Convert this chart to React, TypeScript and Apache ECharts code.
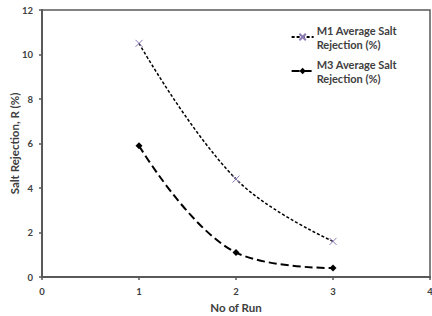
import React, { useEffect, useRef } from "react";
import * as echarts from "echarts";

const runs = [1, 2, 3];
const m1Values = [10.5, 4.4, 1.6];
const m3Values = [5.9, 1.1, 0.4];
const seriesNames = ["M1 Average Salt Rejection (%)", "M3 Average Salt Rejection (%)"];
const xTicks = [0, 1, 2, 3, 4];
const yTicks = [0, 2, 4, 6, 8, 10, 12];

export default function App() {
  const ref = useRef<HTMLDivElement>(null);
  useEffect(() => {
    if (!ref.current) return;
    const chart = echarts.init(ref.current, null, { renderer: "svg" });
    const font = "Lato, 'Open Sans', sans-serif";
    chart.setOption({
      animation: false,
      backgroundColor: "#ffffff",
      textStyle: { fontFamily: font },
      grid: {
        left: 42,
        right: 2,
        top: 10,
        bottom: 39,
        show: true,
        borderColor: "#595959",
        borderWidth: 1.5,
        containLabel: false,
        outerBoundsMode: "none",
      },
      legend: {
        orient: "vertical",
        right: 30,
        top: 18,
        itemWidth: 22,
        itemHeight: 8,
        itemGap: 6,
        data: seriesNames,
        formatter: (n: string) => n.replace(" Rejection", "\nRejection"),
        textStyle: { fontFamily: font, fontSize: 11, fontWeight: "bold", color: "#404040", lineHeight: 14, padding: [0, 0, 0, -2] },
      },
      xAxis: {
        type: "value",
        min: xTicks[0],
        max: xTicks[xTicks.length - 1],
        interval: 1,
        name: "No of Run",
        nameLocation: "middle",
        nameGap: 24,
        nameMoveOverlap: false,
        nameTextStyle: { fontFamily: font, fontSize: 11.5, fontWeight: "bold", color: "#404040" },
        splitLine: { show: false },
        axisLine: { lineStyle: { color: "#595959", width: 2 } },
        axisTick: { show: true, inside: false, length: 3, lineStyle: { color: "#595959", width: 1.5 } },
        axisLabel: { fontFamily: font, fontSize: 9.5, fontWeight: "bold", color: "#404040", margin: 9 },
      },
      yAxis: {
        type: "value",
        min: yTicks[0],
        max: yTicks[yTicks.length - 1],
        interval: 2,
        name: "Salt Rejection, R (%)",
        nameLocation: "middle",
        nameGap: 22,
        nameMoveOverlap: false,
        nameTextStyle: { fontFamily: font, fontSize: 11.5, fontWeight: "bold", color: "#404040" },
        splitLine: { show: false },
        axisLine: { show: true, lineStyle: { color: "#595959", width: 2 } },
        axisTick: { show: true, inside: false, length: 3, lineStyle: { color: "#595959", width: 1.5 } },
        axisLabel: { fontFamily: font, fontSize: 9.5, fontWeight: "bold", color: "#404040", margin: 9 },
      },
      series: [
        {
          name: seriesNames[0],
          type: "line",
          smooth: 0.4,
          data: runs.map((r, i) => [r, m1Values[i]]),
          symbol: "path://M0,0 L10,10 M10,0 L0,10",
          symbolSize: 7,
          itemStyle: { color: "#8C7AB4", borderColor: "#8C7AB4", borderWidth: 1 },
          lineStyle: { color: "#000000", width: 1.5, type: [3, 2] },
        },
        {
          name: seriesNames[1],
          type: "line",
          smooth: 0.4,
          data: runs.map((r, i) => [r, m3Values[i]]),
          symbol: "diamond",
          symbolSize: 7,
          itemStyle: { color: "#000000" },
          lineStyle: { color: "#000000", width: 2, type: [8, 4] },
        },
      ],
    });
    return () => chart.dispose();
  }, []);
  return <div ref={ref} style={{ width: 432, height: 316, position: "absolute", left: 0, top: 0 }} />;
}
